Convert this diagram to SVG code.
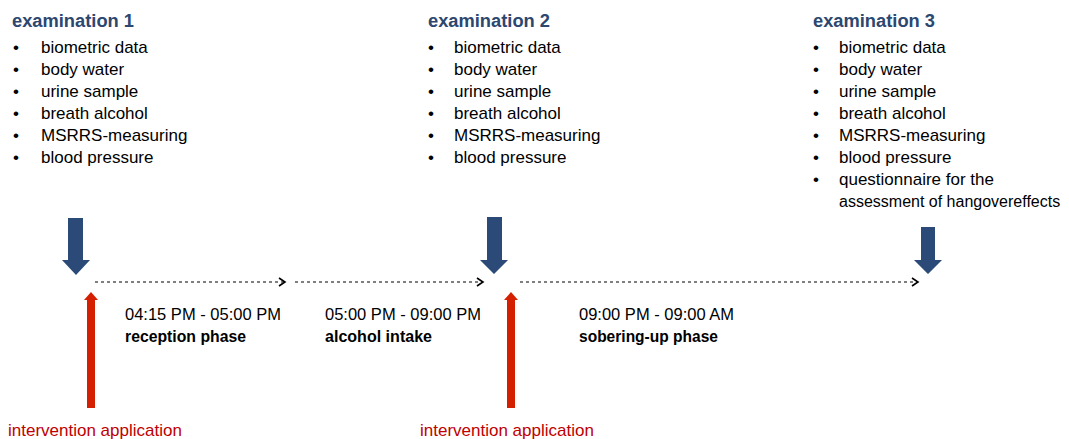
<svg xmlns="http://www.w3.org/2000/svg" width="1069" height="439" viewBox="0 0 1069 439">
<style>
text{font-family:"Liberation Sans",Arial,sans-serif;fill:#000}
.h{font-size:17.5px;font-weight:bold;fill:#2c4770}
.b{font-size:17px}
.t{font-size:16.5px}
.tb{font-size:16.5px;font-weight:bold}
.r{font-size:17px;fill:#c00000}
.blue{fill:#2c4a78}
.red{fill:#d42000}
.dash{stroke:#000;stroke-width:1.2;stroke-dasharray:3 3;fill:none}
.chev{stroke:#000;stroke-width:1.6;fill:none}
</style>
<g id="exam1">
<text class="h" x="12" y="27" textLength="122" lengthAdjust="spacingAndGlyphs">examination 1</text>
<g class="b">
<text x="13" y="53">•</text><text x="41" y="53">biometric data</text>
<text x="13" y="75">•</text><text x="41" y="75">body water</text>
<text x="13" y="97">•</text><text x="41" y="97">urine sample</text>
<text x="13" y="119">•</text><text x="41" y="119">breath alcohol</text>
<text x="13" y="141">•</text><text x="41" y="141">MSRRS-measuring</text>
<text x="13" y="163">•</text><text x="41" y="163">blood pressure</text>
</g>
</g>
<g id="exam2">
<text class="h" x="428" y="27" textLength="122" lengthAdjust="spacingAndGlyphs">examination 2</text>
<g class="b">
<text x="428" y="53">•</text><text x="454" y="53">biometric data</text>
<text x="428" y="75">•</text><text x="454" y="75">body water</text>
<text x="428" y="97">•</text><text x="454" y="97">urine sample</text>
<text x="428" y="119">•</text><text x="454" y="119">breath alcohol</text>
<text x="428" y="141">•</text><text x="454" y="141">MSRRS-measuring</text>
<text x="428" y="163">•</text><text x="454" y="163">blood pressure</text>
</g>
</g>
<g id="exam3">
<text class="h" x="813" y="27" textLength="122" lengthAdjust="spacingAndGlyphs">examination 3</text>
<g class="b">
<text x="813" y="53">•</text><text x="839" y="53">biometric data</text>
<text x="813" y="75">•</text><text x="839" y="75">body water</text>
<text x="813" y="97">•</text><text x="839" y="97">urine sample</text>
<text x="813" y="119">•</text><text x="839" y="119">breath alcohol</text>
<text x="813" y="141">•</text><text x="839" y="141">MSRRS-measuring</text>
<text x="813" y="163">•</text><text x="839" y="163">blood pressure</text>
<text x="813" y="185">•</text><text x="839" y="185">questionnaire for the</text>
<text x="839" y="207" style="font-size:16px">assessment of hangovereffects</text>
</g>
</g>
<g id="phase1">
<text class="t" x="125" y="320">04:15 PM - 05:00 PM</text>
<text class="tb" x="125" y="342" textLength="121" lengthAdjust="spacingAndGlyphs">reception phase</text>
</g>
<g id="phase2">
<text class="t" x="325" y="320">05:00 PM - 09:00 PM</text>
<text class="tb" x="325" y="342" textLength="107" lengthAdjust="spacingAndGlyphs">alcohol intake</text>
</g>
<g id="phase3">
<text class="t" x="579" y="320">09:00 PM - 09:00 AM</text>
<text class="tb" x="579" y="342" textLength="139" lengthAdjust="spacingAndGlyphs">sobering-up phase</text>
</g>
<g id="intervention1">
<text class="r" x="8" y="436">intervention application</text>
</g>
<g id="intervention2">
<text class="r" x="420" y="436">intervention application</text>
</g>
<g id="connectors">
<polygon class="blue" points="68,218 83,218 83,260 90,260 76,275 62,260 68,260"/>
<polygon class="blue" points="487,217 502,217 502,260 508,260 494,274 480,260 487,260"/>
<polygon class="blue" points="921,227 935,227 935,260 942,260 928,274 914,260 921,260"/>
<polygon class="red" points="87,408 95,408 95,300 98,300 91,292 84,300 87,300"/>
<polygon class="red" points="507,408 515,408 515,300 518,300 511,292 504,300 507,300"/>
<path class="dash" d="M95,282 H284"/>
<path class="chev" d="M279,278 L285,282 L279,286"/>
<path class="dash" d="M295,282 H482"/>
<path class="chev" d="M477,278 L483,282 L477,286"/>
<path class="dash" d="M520,282 H917"/>
<path class="chev" d="M912,278 L918,282 L912,286"/>
</g>
</svg>
